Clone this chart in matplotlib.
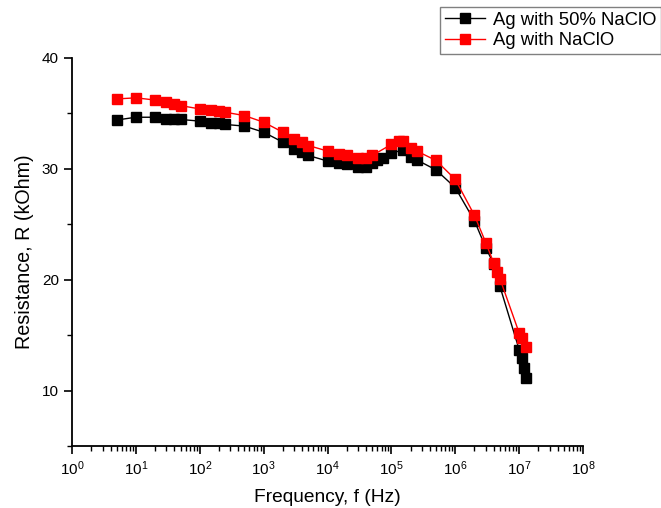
import numpy as np
import matplotlib.pyplot as plt
from matplotlib.ticker import FixedLocator, MultipleLocator, LogFormatterSciNotation, NullFormatter

plt.rcParams['font.family'] = ['Liberation Sans', 'DejaVu Sans']
plt.rcParams['mathtext.fontset'] = 'custom'
plt.rcParams['mathtext.rm'] = 'Liberation Sans'
plt.rcParams['mathtext.it'] = 'Liberation Sans:italic'

# Ag with 50% NaClO
f_black = [5, 10, 20, 30, 40, 50, 100, 150, 200, 250, 500, 1e3, 2e3, 3e3, 4e3, 5e3,
           1e4, 1.5e4, 2e4, 3e4, 4e4, 5e4, 6e4, 7.5e4, 1e5, 1.5e5, 2e5, 2.5e5, 5e5, 1e6,
           2e6, 3e6, 4e6, 5e6, 1e7, 1.1e7, 1.2e7, 1.3e7]
r_black = [34.4, 34.65, 34.65, 34.5, 34.45, 34.45, 34.3, 34.15, 34.1, 34.0, 33.85, 33.3,
           32.4, 31.8, 31.5, 31.2, 30.7, 30.5, 30.4, 30.2, 30.2, 30.5, 30.8, 30.95, 31.4,
           31.7, 31.1, 30.8, 29.9, 28.3, 25.3, 22.9, 21.4, 19.4, 13.7, 12.9, 12.0, 11.1]

# Ag with NaClO
f_red = [5, 10, 20, 30, 40, 50, 100, 150, 200, 250, 500, 1e3, 2e3, 3e3, 4e3, 5e3,
         1e4, 1.5e4, 2e4, 3e4, 4e4, 5e4, 1e5, 1.3e5, 1.5e5, 2e5, 2.5e5, 5e5, 1e6,
         2e6, 3e6, 4e6, 4.5e6, 5e6, 1e7, 1.1e7, 1.27e7]
r_red = [36.3, 36.4, 36.2, 36.0, 35.8, 35.7, 35.4, 35.3, 35.2, 35.1, 34.8, 34.2,
         33.3, 32.7, 32.4, 32.1, 31.6, 31.3, 31.2, 31.0, 31.0, 31.2, 32.2, 32.5, 32.5,
         31.9, 31.6, 30.75, 29.05, 25.8, 23.35, 21.5, 20.7, 20.1, 15.2, 14.7, 13.95]

decades = [10.0 ** k for k in range(0, 9)]
minor_x = [m * 10.0 ** k for k in range(0, 8) for m in range(2, 10)]

fig = plt.figure(figsize=(6.61, 5.08), dpi=100)
ax = fig.add_axes([0.109, 0.122, 0.773, 0.764])

ax.plot(f_black, r_black, color='black', lw=1.0, marker='s', ms=7, mec='black',
        label='Ag with 50% NaClO')
ax.plot(f_red, r_red, color='red', lw=1.0, marker='s', ms=7, mec='red',
        label='Ag with NaClO')

ax.set_xscale('log')
ax.set_xlim(1, 1e8)
ax.set_ylim(5, 40)

ax.xaxis.set_major_locator(FixedLocator(decades))
ax.xaxis.set_minor_locator(FixedLocator(minor_x))
ax.xaxis.set_major_formatter(LogFormatterSciNotation())
ax.xaxis.set_minor_formatter(NullFormatter())
ax.set_yticks([10, 20, 30, 40])
ax.yaxis.set_minor_locator(MultipleLocator(5))

for s in ['top', 'right']:
    ax.spines[s].set_visible(False)
for s in ['left', 'bottom']:
    ax.spines[s].set_linewidth(1.3)

ax.tick_params(which='major', direction='out', length=6, width=1.2, labelsize=11)
ax.tick_params(which='minor', direction='out', length=3.5, width=1.0)

ax.set_xlabel('Frequency, f (Hz)', fontsize=13.8, labelpad=8)
ax.set_ylabel('Resistance, R (kOhm)', fontsize=14.2, labelpad=6)

leg = ax.legend(loc='upper left', bbox_to_anchor=(0.666, 0.986),
                bbox_transform=fig.transFigure, fontsize=13.3, fancybox=False,
                edgecolor='grey', framealpha=1, handlelength=2.2,
                borderpad=0.25, labelspacing=0.2, handletextpad=0.4, borderaxespad=0)
leg.get_frame().set_linewidth(1.0)

fig.savefig('out.png', dpi=100)
